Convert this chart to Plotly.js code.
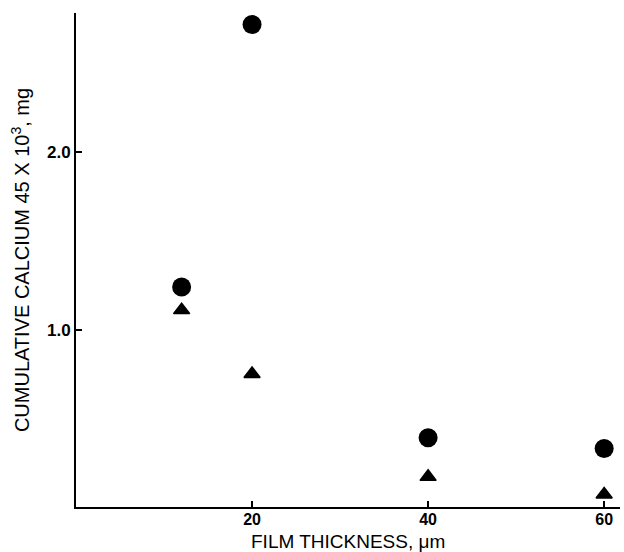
<!DOCTYPE html>
<html>
<head>
<meta charset="utf-8">
<script src="https://cdn.plot.ly/plotly-3.0.1.min.js"></script>
<style>html,body{margin:0;padding:0;background:#fff;}#chart{width:624px;height:552px;}</style>
</head>
<body>
<div id="chart"></div>
<script>
// Film thickness (µm) and cumulative calcium 45 ×10^3 (mg)
const circleX = [12, 20, 40, 60];
const circleY = [1.24, 2.72, 0.39, 0.33];
const triangleX = [12, 20, 40, 60];
const triangleY = [1.11, 0.75, 0.17, 0.07];
const xTickVals = [20, 40, 60];
const xTickText = ['20', '40', '60'];
const yTickVals = [1.0, 2.0];
const yTickText = ['1.0', '2.0'];
const xTitle = 'FILM THICKNESS, \u03bcm';
const yTitle = 'CUMULATIVE CALCIUM 45 X 10<sup>3</sup>, mg';

const FAM = 'Liberation Sans, Arial, sans-serif';

const traces = [
  {x: circleX, y: circleY, mode: 'markers', type: 'scatter', cliponaxis: false,
   marker: {symbol: 'circle', size: 19, color: '#000'}, showlegend: false, hoverinfo: 'skip'},
  {x: triangleX, y: triangleY, mode: 'markers', type: 'scatter', cliponaxis: false,
   marker: {symbol: 'triangle-up', size: 14, color: '#000', line: {color: '#000', width: 1.5}}, showlegend: false, hoverinfo: 'skip'}
];

const layout = {
  width: 624, height: 552,
  paper_bgcolor: '#fff', plot_bgcolor: '#fff',
  margin: {l: 76, r: 4, t: 13, b: 45},
  font: {family: FAM, color: '#000'},
  xaxis: {
    range: [0, 61.8], showgrid: false, zeroline: false,
    showline: true, linecolor: '#000', linewidth: 2,
    ticks: 'inside', ticklen: 6, tickwidth: 2, tickcolor: '#000',
    tickvals: xTickVals, ticktext: xTickText, ticklabelstandoff: -3,
    tickfont: {family: FAM, size: 16, color: '#000', weight: 'bold'}
  },
  yaxis: {
    range: [0, 2.785], showgrid: false, zeroline: false,
    showline: true, linecolor: '#000', linewidth: 2,
    ticks: 'inside', ticklen: 6, tickwidth: 2, tickcolor: '#000',
    tickvals: yTickVals, ticktext: yTickText,
    tickfont: {family: FAM, size: 17, color: '#000', weight: 'bold'},
    title: {text: yTitle, font: {family: FAM, size: 20, color: '#000'}, standoff: 12}
  },
  annotations: [
    {text: xTitle, xref: 'paper', yref: 'paper', x: 0.5, y: 0, xanchor: 'center', yanchor: 'top',
     yshift: -22, showarrow: false, font: {family: FAM, size: 19, color: '#000'}}
  ]
};

Plotly.newPlot('chart', traces, layout, {staticPlot: true, displayModeBar: false});
</script>
</body>
</html>
